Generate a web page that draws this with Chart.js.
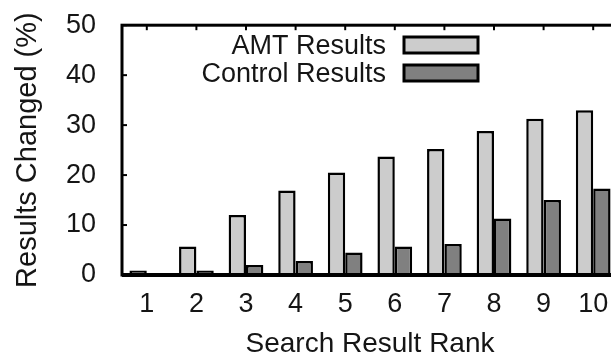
<!DOCTYPE html>
<html>
<head>
<meta charset="utf-8">
<script src="https://cdn.jsdelivr.net/npm/chart.js@4"></script>
<style>
  html, body { margin: 0; padding: 0; background: #fff; overflow: hidden; }
  #wrap { width: 640px; height: 354px; position: relative; overflow: hidden; }
  #c { position: absolute; left: 0; top: -9px; }
</style>
</head>
<body>
<div id="wrap"><canvas id="c" width="640" height="363"></canvas></div>
<script>
// Share of results that changed at each search result rank (%)
const ranks = ['1', '2', '3', '4', '5', '6', '7', '8', '9', '10'];
const amtResults = [0.9, 5.7, 12.0, 16.9, 20.5, 23.7, 25.2, 28.8, 31.3, 33.0];
const controlResults = [0.2, 0.9, 2.0, 2.8, 4.5, 5.7, 6.2, 11.3, 15.0, 17.3];
const yTicks = [0, 10, 20, 30, 40, 50];
const xTitle = 'Search Result Rank';
const yTitle = 'Results Changed (%)';

const FONT = '"Liberation Sans", Arial, Helvetica, sans-serif';
const INK = '#151515';
const SHIFT = 9; // canvas sits 9px above the page top

// Frame, inward tick marks, axis titles and the in-plot key
const framePlugin = {
  id: 'frame',
  afterDatasetsDraw(chart) {
    const { ctx, chartArea: a, scales } = chart;
    ctx.save();
    ctx.strokeStyle = '#000';
    ctx.lineCap = 'butt';
    // inward ticks on the left axis
    ctx.lineWidth = 2;
    yTicks.forEach(v => {
      const y = scales.y.getPixelForValue(v);
      ctx.beginPath(); ctx.moveTo(a.left, y); ctx.lineTo(a.left + 5, y); ctx.stroke();
    });
    // inward ticks on the top axis
    ranks.forEach((r, i) => {
      const x = scales.x.getPixelForValue(i);
      ctx.beginPath(); ctx.moveTo(x, a.top); ctx.lineTo(x, a.top + 5); ctx.stroke();
    });
    // box around the plot
    ctx.lineWidth = 3;
    ctx.strokeRect(a.left, a.top, a.right - a.left, a.bottom - a.top);
    ctx.lineWidth = 4;
    ctx.beginPath(); ctx.moveTo(a.left, a.bottom); ctx.lineTo(a.right, a.bottom); ctx.stroke();

    // key
    ctx.font = '27px ' + FONT;
    ctx.textAlign = 'right';
    ctx.textBaseline = 'alphabetic';
    const rows = [54 + SHIFT, 82 + SHIFT];
    chart.data.datasets.forEach((ds, i) => {
      const base = rows[i];
      ctx.fillStyle = INK;
      ctx.fillText(ds.label, 386, base);
      ctx.fillStyle = ds.backgroundColor;
      ctx.fillRect(404, base - 17, 74, 16);
      ctx.lineWidth = 3;
      ctx.strokeStyle = '#000';
      ctx.strokeRect(404, base - 17, 74, 16);
    });

    // axis titles
    ctx.fillStyle = INK;
    ctx.textAlign = 'center';
    ctx.font = '28px ' + FONT;
    ctx.fillText(xTitle, (a.left + a.right) / 2, 352 + SHIFT);
    ctx.save();
    ctx.translate(36, (a.top + a.bottom) / 2);
    ctx.rotate(-Math.PI / 2);
    ctx.font = '29px ' + FONT;
    ctx.fillText(yTitle, 0, 0);
    ctx.restore();
    ctx.restore();
  }
};

new Chart(document.getElementById('c'), {
  type: 'bar',
  data: {
    labels: ranks,
    datasets: [
      { label: 'AMT Results', data: amtResults, backgroundColor: '#cccccc',
        borderColor: '#000', borderWidth: 2.5 },
      { label: 'Control Results', data: controlResults, backgroundColor: '#808080',
        borderColor: '#000', borderWidth: 2.5 }
    ]
  },
  options: {
    responsive: false,
    animation: false,
    layout: { padding: { left: 0, top: 34, right: 22, bottom: 0 } },
    datasets: { bar: { categoryPercentage: 0.7, barPercentage: 1.0 } },
    plugins: { legend: { display: false }, tooltip: { enabled: false } },
    scales: {
      x: {
        grid: { display: false },
        border: { display: false },
        ticks: { color: INK, font: { family: FONT, size: 27 }, padding: 5, maxRotation: 0 },
        afterFit(s) { s.height = 79; }
      },
      y: {
        min: 0, max: 50,
        grid: { display: false },
        border: { display: false },
        afterBuildTicks(s) { s.ticks = yTicks.map(v => ({ value: v })); },
        ticks: { color: INK, font: { family: FONT, size: 27 }, padding: 18 },
        afterFit(s) { s.width = 122; }
      }
    }
  },
  plugins: [framePlugin]
});
</script>
</body>
</html>
